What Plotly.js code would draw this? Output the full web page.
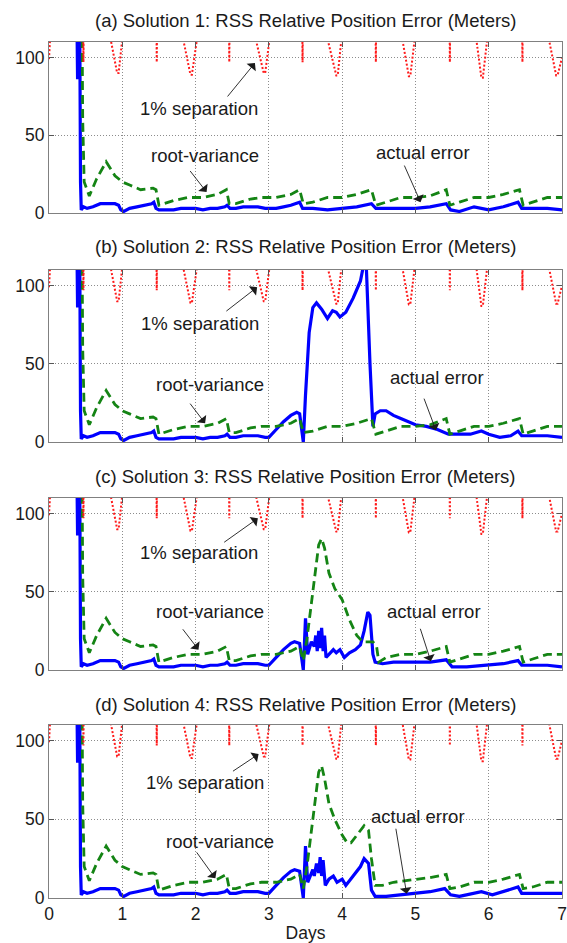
<!DOCTYPE html>
<html>
<head>
<meta charset="utf-8">
<script src="https://cdn.plot.ly/plotly-3.0.1.min.js"></script>
<style>html,body{margin:0;padding:0;background:#fff;}#chart{width:567px;height:943px;}</style>
</head>
<body>
<div id="chart"></div>
<script>
// ---------- data ----------
const panelTitles = [
  "(a) Solution 1: RSS Relative Position Error (Meters)",
  "(b) Solution 2: RSS Relative Position Error (Meters)",
  "(c) Solution 3: RSS Relative Position Error (Meters)",
  "(d) Solution 4: RSS Relative Position Error (Meters)"
];
const xTickVals = [0, 1, 2, 3, 4, 5, 6, 7];
const yTickVals = [0, 50, 100];

// 1% separation (same in all panels); values above 110 run off the top
const sepDays = [0, 0.02, 0.03, 0.465, 0.47, 0.475, 0.84, 0.93, 0.95, 1.0, 1.465, 1.47, 1.475,
  1.83, 1.93, 1.95, 2.02, 2.455, 2.46, 2.465, 2.82, 2.93, 2.95, 3.01, 3.455, 3.46, 3.465,
  3.8, 3.92, 3.94, 3.99, 4.455, 4.46, 4.465, 4.82, 4.91, 4.93, 4.99, 5.465, 5.47, 5.475,
  5.83, 5.9, 5.92, 5.98, 6.455, 6.46, 6.465, 6.82, 6.92, 6.94, 7.0];
const sepVal = [99, 112, 125, 125, 97, 125, 112, 90, 90, 112, 125, 97, 125,
  112, 89, 89, 112, 125, 97, 125, 112, 90, 90, 112, 125, 97, 125,
  112, 88.5, 88.5, 112, 125, 97, 125, 112, 88, 88, 112, 125, 97, 125,
  112, 87, 87, 112, 125, 97, 125, 112, 88.5, 88.5, 100];

// Solution 1
const actDaysA = [0.38,0.39,0.40,0.41,0.42,0.43,0.44,0.47,0.52,0.6,0.7,0.8,0.9,0.95,0.98,1.02,1.1,1.2,1.3,1.4,1.43,1.46,1.5,1.6,1.7,1.8,1.9,2.0,2.1,2.2,2.3,2.4,2.43,2.47,2.55,2.65,2.75,2.85,2.95,
  3.0,3.1,3.2,3.3,3.42,3.46,3.6,3.8,4.0,4.2,4.4,4.46,4.6,4.8,5.0,5.2,5.42,5.48,5.6,5.8,6.0,6.2,6.4,6.45,6.6,6.8,7.0];
const actA = [130,86,125,87,120,20,2,4,3,4,6,6,6,5,2,1,3,4,5,6,7,3,2,2,2,3,3,3,2,3,3,4,5,3,3,4,4,4,3,
  3,3,4,5,7,3,3,2,3,4,6,3,3,3,3,4,6,2,1,4,2,4,7,3,3,3,2];
const rvDaysA = [0.45,0.46,0.48,0.52,0.55,0.65,0.78,0.9,1.0,1.1,1.25,1.42,1.46,1.5,1.7,1.9,2.1,2.3,2.42,2.46,2.55,2.75,2.9,
  3.1,3.3,3.42,3.47,3.6,3.8,4.0,4.2,4.4,4.46,4.6,4.8,5.0,5.2,5.42,5.47,5.6,5.8,6.0,6.2,6.42,6.47,6.6,6.8,7.0];
const rvA = [130,60,20,15,11,22,33,24,20,18,15,16,15,5,8,10,10,12,15,6,6,9,10,
  10,12,15,6,7,10,10,12,15,5,7,10,10,11,15,5,7,10,10,12,15,5,7,10,10];

// Solution 2
const actDaysB = [0.38,0.39,0.40,0.41,0.42,0.43,0.44,0.47,0.52,0.6,0.7,0.8,0.9,0.95,0.98,1.02,1.1,1.2,1.3,1.4,1.43,1.46,1.5,1.6,1.7,1.8,1.9,2.0,2.1,2.2,2.3,2.4,2.43,2.47,2.55,2.65,2.75,2.85,2.95,
  3.0,3.1,3.2,3.3,3.38,3.42,3.46,3.47,3.5,3.55,3.6,3.65,3.72,3.8,3.87,3.92,3.97,4.05,4.15,4.25,4.3,4.33,4.38,4.42,4.45,4.52,4.6,4.7,4.8,4.9,5.0,5.15,5.3,5.45,5.6,5.75,5.9,6.0,6.15,6.3,6.4,6.45,6.6,6.8,7.0];
const actB = [130,86,125,87,120,20,2,4,3,4,6,6,6,5,2,1,3,4,5,6,7,3,2,2,2,3,3,3,2,3,3,4,5,3,3,4,4,4,3,
  3,8,13,17,19,18,5,0,30,70,86,89,85,79,84,83,80,83,92,103,115,112,50,10,18,20,20,17,15,13,11,10,8,5,5,5,7,5,3,4,7,4,4,4,3];
const rvDaysB = rvDaysA;
const rvB = rvA;

// Solution 3
const actDaysC = [0.38,0.39,0.40,0.41,0.42,0.43,0.44,0.47,0.52,0.6,0.7,0.8,0.9,0.95,0.98,1.02,1.1,1.2,1.3,1.4,1.43,1.46,1.5,1.6,1.7,1.8,1.9,2.0,2.1,2.2,2.3,2.4,2.43,2.47,2.55,2.65,2.75,2.85,2.95,
  3.0,3.1,3.2,3.3,3.35,3.42,3.46,3.47,3.5,3.53,3.58,3.62,3.64,3.66,3.68,3.7,3.72,3.74,3.76,3.78,3.82,3.88,3.92,3.97,4.03,4.1,4.18,4.25,4.3,4.35,4.38,4.42,4.45,4.55,4.7,5.0,5.2,5.42,5.5,5.7,6.0,6.2,6.4,6.45,6.6,6.8,7.0];
const actC = [130,86,125,87,120,20,2,4,3,4,6,6,6,5,2,1,3,4,5,6,7,3,2,2,2,3,3,3,2,3,3,4,5,3,3,4,4,4,3,
  3,8,13,17,18,17,5,0,33,10,18,15,22,12,25,14,27,12,22,8,10,13,11,13,8,11,13,16,25,37,35,10,5,4,5,5,5,6.5,2,2,3,4,6,3,3,3,2];
const rvDaysC = [0.45,0.46,0.48,0.52,0.55,0.65,0.78,0.9,1.0,1.1,1.25,1.42,1.46,1.5,1.7,1.9,2.1,2.3,2.42,2.46,2.55,2.75,2.9,
  3.1,3.3,3.42,3.47,3.52,3.6,3.68,3.72,3.76,3.82,3.9,4.0,4.1,4.2,4.28,4.42,4.47,4.5,4.6,4.8,5.0,5.2,5.42,5.47,5.6,5.8,6.0,6.2,6.42,6.47,6.6,6.8,7.0];
const rvC = [130,60,20,15,11,22,33,24,20,18,15,16,15,5,8,10,10,12,15,6,6,9,10,
  10,12,15,6,20,50,80,84,78,62,52,45,32,22,18,18,15,5,8,10,10,12,15,5,7,10,10,12,15,5,7,10,10];

// Solution 4
const actDaysD = [0.38,0.39,0.40,0.41,0.42,0.43,0.44,0.47,0.52,0.6,0.7,0.8,0.9,0.95,0.98,1.02,1.1,1.2,1.3,1.4,1.43,1.46,1.5,1.6,1.7,1.8,1.9,2.0,2.1,2.2,2.3,2.4,2.43,2.47,2.55,2.65,2.75,2.85,2.95,
  3.0,3.1,3.2,3.3,3.35,3.42,3.46,3.47,3.5,3.53,3.6,3.62,3.65,3.68,3.7,3.72,3.74,3.77,3.82,3.88,3.93,4.0,4.05,4.15,4.25,4.3,4.36,4.4,4.45,4.6,4.8,5.0,5.2,5.4,5.48,5.6,5.8,5.9,6.05,6.2,6.4,6.45,6.6,6.8,7.0];
const actD = [130,86,125,87,120,20,2,4,3,4,6,6,6,5,2,1,3,4,5,6,7,3,2,2,2,3,3,3,2,3,3,4,5,3,3,4,4,4,3,
  3,8,13,17,18,17,5,0,33,10,18,14,22,16,26,14,24,8,12,14,10,12,8,14,20,25,22,5,1,1,2,3,4,6,2,1,3,4,2,4,7,3,3,3,3];
const rvDaysD = [0.45,0.46,0.48,0.52,0.55,0.65,0.78,0.9,1.0,1.1,1.25,1.42,1.46,1.5,1.7,1.9,2.1,2.3,2.42,2.46,2.55,2.75,2.9,
  3.1,3.3,3.42,3.47,3.52,3.6,3.68,3.72,3.76,3.82,3.9,4.0,4.07,4.12,4.2,4.3,4.36,4.4,4.45,4.55,4.7,5.0,5.2,5.42,5.47,5.6,5.8,6.0,6.2,6.42,6.47,6.6,6.8,7.0];
const rvD = [130,60,20,15,11,22,33,24,20,18,15,16,15,5,8,10,10,12,15,6,6,9,10,
  10,12,15,6,20,50,80,84,76,60,50,40,35,35,40,46,43,25,8,8,10,12,13,15,6,7,10,10,12,15,6,7,10,10];

// label anchor points per panel: [textDay, textVal, tailDay, tailVal, headDay, headVal]
const sepLabels = [[2.05,67,2.42,74,2.81,96.5],[2.06,76,2.40,83,2.84,99],[2.05,75,2.37,81,2.85,97],[2.13,73.5,2.49,80,2.86,91.5]];
const rvLabels  = [[2.13,37,1.91,28,2.15,13.5],[2.19,36.5,1.91,25.5,2.13,12],[2.19,37.5,1.81,27,2.04,13],[2.34,36,2.0,30,2.27,12.5]];
const actLabels = [[5.11,39,4.84,31.5,5.07,7],[5.29,41.5,5.11,28.7,5.28,7.5],[5.26,37.5,5.06,27.3,5.21,5.5],[5.04,51.8,4.73,45,4.88,2.7]];

// ---------- drawing ----------
const FONT = "Liberation Sans, Arial, Helvetica, sans-serif";
const domains = [[0.8002,1],[0.5327,0.7336],[0.2664,0.4673],[0,0.2021]];
const titleY = [1.0257, 0.7609, 0.4922, 0.2255];
const actSets = [[actDaysA,actA],[actDaysB,actB],[actDaysC,actC],[actDaysD,actD]];
const rvSets = [[rvDaysA,rvA],[rvDaysB,rvB],[rvDaysC,rvC],[rvDaysD,rvD]];

const traces = [];
const layout = {
  width: 567, height: 943,
  margin: {l: 49, r: 5, t: 42, b: 45},
  paper_bgcolor: "#ffffff", plot_bgcolor: "#ffffff",
  showlegend: false,
  font: {family: FONT, size: 17, color: "#1a1a1a"},
  annotations: []
};

for (let i = 0; i < 4; i++) {
  const s = i === 0 ? "" : String(i + 1);
  const xa = "x" + s, ya = "y" + s;
  traces.push({x: actSets[i][0], y: actSets[i][1], xaxis: xa, yaxis: ya, mode: "lines",
    line: {color: "#0000ff", width: 3.2}, hoverinfo: "skip"});
  traces.push({x: rvSets[i][0], y: rvSets[i][1], xaxis: xa, yaxis: ya, mode: "lines",
    line: {color: "#148414", width: 2.8, dash: "9px,5px"}, hoverinfo: "skip"});
  traces.push({x: sepDays, y: sepVal, xaxis: xa, yaxis: ya, mode: "lines",
    line: {color: "#ff1a1a", width: 2, dash: "2px,2px"}, hoverinfo: "skip"});

  layout["xaxis" + s] = {
    domain: [0, 1], anchor: ya, range: [0, 7], tickvals: xTickVals,
    showticklabels: i === 3, showgrid: true, gridcolor: "#8c8c8c", griddash: "1px,2px", gridwidth: 1,
    zeroline: false, showline: true, linecolor: "#808080", linewidth: 1, mirror: "ticks",
    ticks: "inside", ticklen: 5, tickcolor: "#555555",
    tickfont: {family: FONT, size: 17.5, color: "#1a1a1a"},
    title: i === 3 ? {text: "Days", font: {family: FONT, size: 17.5, color: "#1a1a1a"}, standoff: 6} : {text: ""}
  };
  layout["yaxis" + s] = {
    domain: domains[i], anchor: xa, range: [0, 110], tickvals: yTickVals,
    showgrid: true, gridcolor: "#8c8c8c", griddash: "1px,2px", gridwidth: 1,
    zeroline: false, showline: true, linecolor: "#808080", linewidth: 1, mirror: "ticks",
    ticks: "inside", ticklen: 5, tickcolor: "#555555",
    tickfont: {family: FONT, size: 17.5, color: "#1a1a1a"}
  };

  layout.annotations.push({text: panelTitles[i], xref: "paper", yref: "paper", x: 0.5, y: titleY[i],
    xanchor: "center", yanchor: "middle", showarrow: false, font: {family: FONT, size: 18.5, color: "#1a1a1a"}});

  const groups = [[sepLabels[i], "1% separation"], [rvLabels[i], "root-variance"], [actLabels[i], "actual error"]];
  for (const [p, label] of groups) {
    layout.annotations.push({text: label, xref: xa, yref: ya, x: p[0], y: p[1], showarrow: false,
      xanchor: "center", yanchor: "middle", font: {family: FONT, size: 18.5, color: "#1a1a1a"}});
    layout.annotations.push({text: "", xref: xa, yref: ya, axref: xa, ayref: ya,
      x: p[4], y: p[5], ax: p[2], ay: p[3], showarrow: true,
      arrowhead: 1, arrowsize: 2.2, arrowwidth: 0.9, arrowcolor: "#1a1a1a", standoff: 0, startstandoff: 0});
  }
}

Plotly.newPlot("chart", traces, layout, {staticPlot: true, displayModeBar: false});
</script>
</body>
</html>
